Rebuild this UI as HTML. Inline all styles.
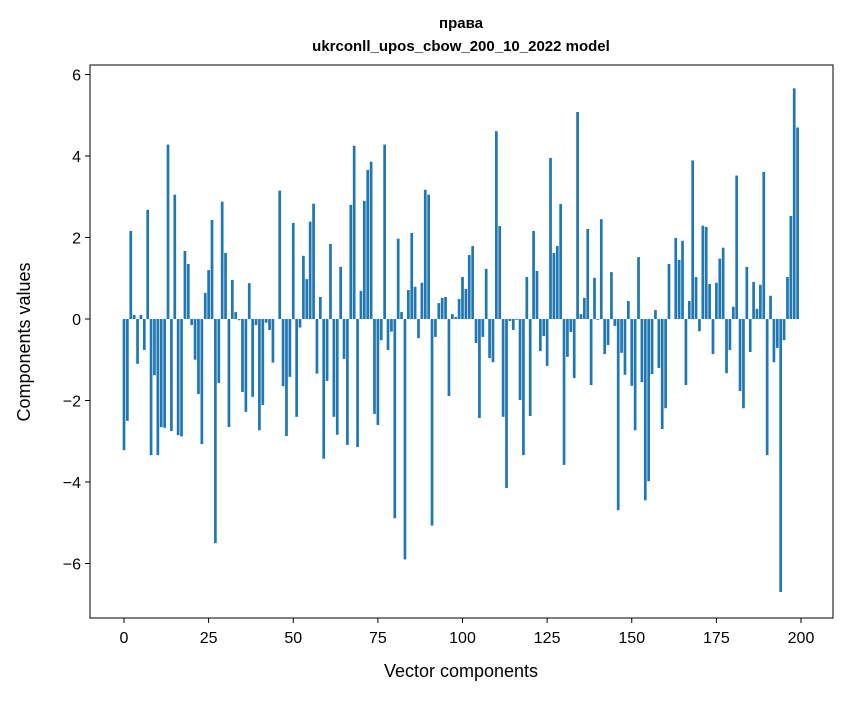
<!DOCTYPE html>
<html><head><meta charset="utf-8"><style>
body{margin:0;background:#fff;}
svg text{font-family:"Liberation Sans","DejaVu Sans",sans-serif;}
</style></head><body>
<svg id="chart" width="847" height="696" xmlns="http://www.w3.org/2000/svg">
<rect width="847" height="696" fill="#fff"/>
<text x="461" y="28" text-anchor="middle" font-size="15" font-weight="bold">права</text>
<text x="461" y="51" text-anchor="middle" font-size="15" font-weight="bold">ukrconll_upos_cbow_200_10_2022 model</text>
<g id="bars"></g>
<g id="axes"></g>
<rect x="90" y="65" width="743" height="553" fill="none" stroke="#000" stroke-width="1"/>
<text x="461" y="677" text-anchor="middle" font-size="18">Vector components</text>
<text x="30" y="342" text-anchor="middle" font-size="18" transform="rotate(-90 30 342)">Components values</text>
</svg>
<script>
const values = [-3.22,-2.5,2.16,0.1,-1.1,0.1,-0.76,2.68,-3.34,-1.38,-3.34,-2.65,-2.67,4.28,-2.75,3.05,-2.85,-2.88,1.67,1.35,
-0.15,-1.0,-1.84,-3.07,0.64,1.2,2.43,-5.5,-1.57,2.88,1.62,-2.65,0.96,0.17,-0.03,-1.79,-2.28,0.88,-1.91,-0.15,
-2.73,-2.11,-0.09,-0.27,-1.07,0.0,3.15,-1.65,-2.87,-1.42,2.36,-2.4,-0.21,1.55,0.98,2.39,2.83,-1.34,0.54,-3.43,
-1.52,1.84,-2.4,-2.84,1.28,-0.98,-3.09,2.8,4.25,-3.14,0.69,2.9,3.66,3.86,-2.33,-2.6,-0.52,4.28,-0.76,-0.31,
-4.89,1.97,0.17,-5.9,0.71,2.11,0.79,-0.47,0.89,3.17,3.05,-5.07,-0.44,0.39,0.52,0.54,-1.89,0.12,0.05,0.49,
1.03,0.74,1.57,1.79,-0.59,-2.43,-0.44,1.23,-0.96,-1.06,4.61,2.28,-2.4,-4.15,-0.05,-0.27,-0.02,-1.99,-3.34,1.03,
-2.38,2.16,1.18,-0.79,-0.42,-1.15,3.95,1.62,1.79,2.82,-3.58,-0.93,-0.32,-1.45,5.08,0.12,0.52,2.21,-1.62,1.01,
-0.02,2.45,-0.86,-0.64,1.15,-0.17,-4.69,-0.83,-1.37,0.44,-1.64,-2.73,1.52,-1.55,-4.45,-3.98,-1.35,0.22,-1.2,-2.7,
-2.19,1.35,0.0,1.99,1.45,1.92,-1.62,0.44,3.89,1.03,-0.3,2.29,2.26,0.86,-0.86,0.89,1.48,1.75,-1.33,-0.76,
0.3,3.52,-1.77,-2.19,1.28,-0.81,0.91,0.25,0.84,3.61,-3.34,0.57,-1.06,-0.71,-6.7,-0.52,1.03,2.53,5.66,4.7];
const xTicks = [0,25,50,75,100,125,150,175,200];
const yTicks = [-6,-4,-2,0,2,4,6];
const NS="http://www.w3.org/2000/svg";
function xs(v){return 124+v*3.385;}
function ys(v){return 319-v*40.75;}
const bars=document.getElementById('bars');
values.forEach((v,i)=>{
  const r=document.createElementNS(NS,'rect');
  const y0=ys(Math.max(v,0)), y1=ys(Math.min(v,0));
  r.setAttribute('x',xs(i-0.4));
  r.setAttribute('y',y0);
  r.setAttribute('width',3.385*0.8);
  r.setAttribute('height',Math.max(y1-y0,0));
  r.setAttribute('fill','#1f77b4');
  
  
  bars.appendChild(r);
});
const axes=document.getElementById('axes');
xTicks.forEach(t=>{
  const l=document.createElementNS(NS,'line');
  l.setAttribute('x1',xs(t));l.setAttribute('x2',xs(t));
  l.setAttribute('y1',618);l.setAttribute('y2',623);
  l.setAttribute('stroke','#000');
  
  
  axes.appendChild(l);
  const tx=document.createElementNS(NS,'text');
  tx.setAttribute('x',xs(t));tx.setAttribute('y',643);
  tx.setAttribute('text-anchor','middle');tx.setAttribute('font-size','16');
  tx.textContent=t;
  
  
  axes.appendChild(tx);
});
yTicks.forEach(t=>{
  const l=document.createElementNS(NS,'line');
  l.setAttribute('x1',85);l.setAttribute('x2',90);
  l.setAttribute('y1',ys(t));l.setAttribute('y2',ys(t));
  l.setAttribute('stroke','#000');
  
  
  axes.appendChild(l);
  const tx=document.createElementNS(NS,'text');
  tx.setAttribute('x',81);tx.setAttribute('y',ys(t)+6);
  tx.setAttribute('text-anchor','end');tx.setAttribute('font-size','16');
  tx.textContent=(t<0?'\u2212'+Math.abs(t):String(t));
  
  
  axes.appendChild(tx);
});
</script>
</body></html>
